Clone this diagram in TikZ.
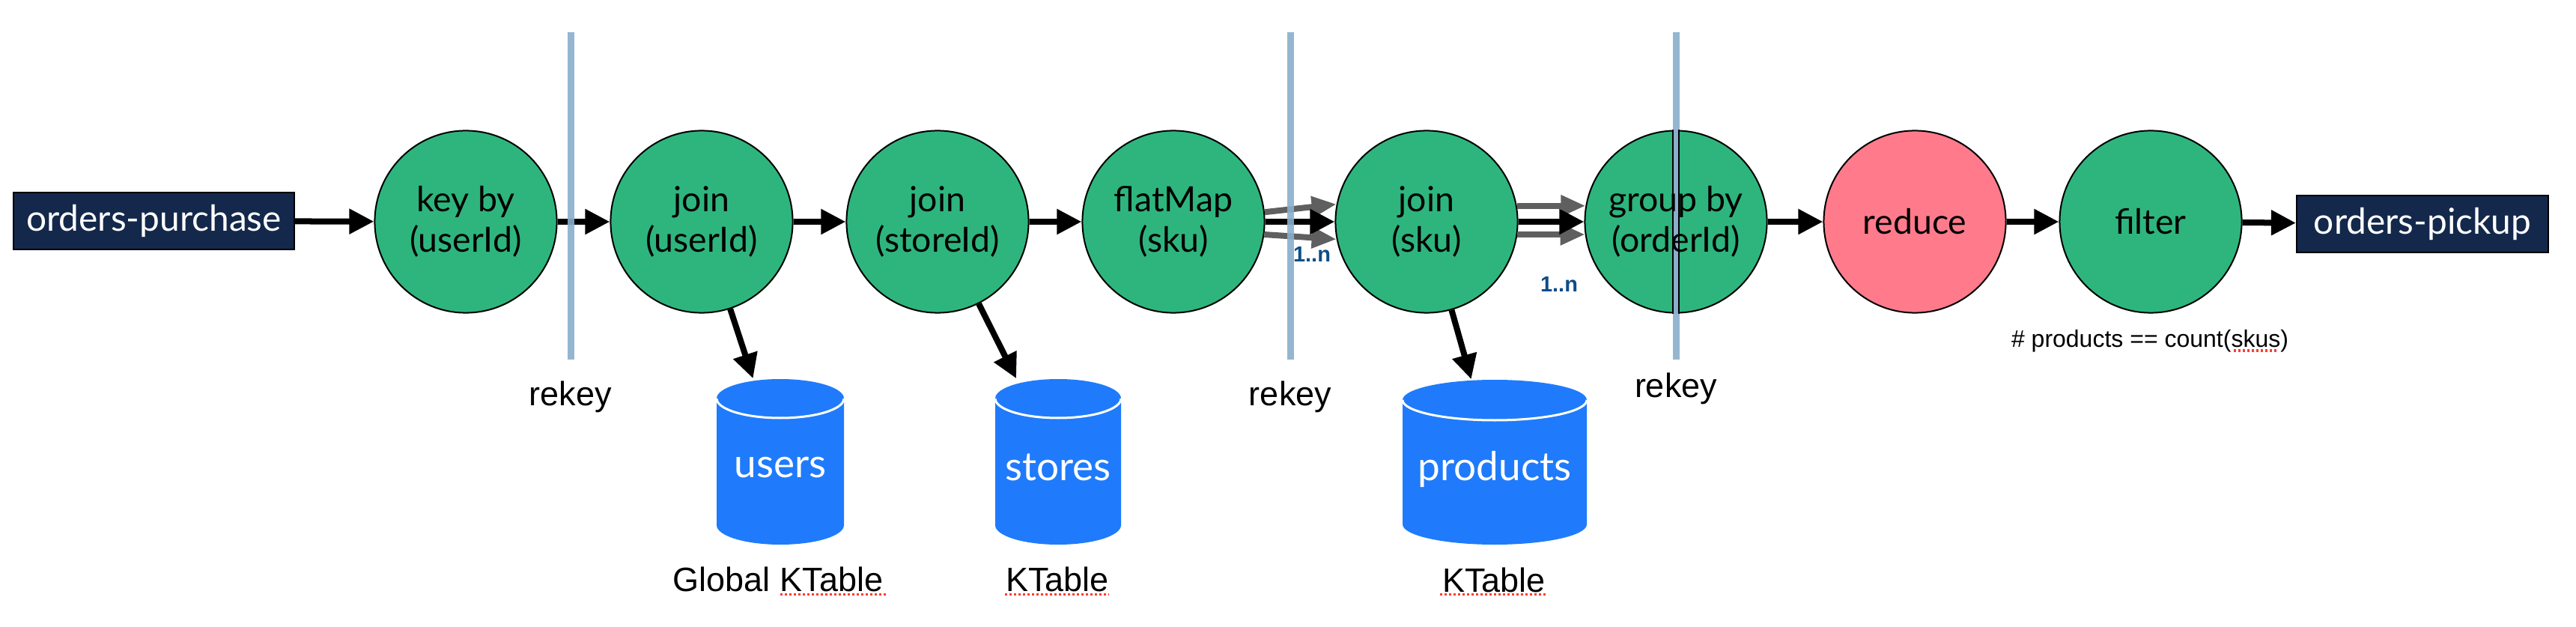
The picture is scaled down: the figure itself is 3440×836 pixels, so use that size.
\documentclass[tikz,border=0pt]{standalone}
\usepackage{fontspec}
\setmainfont{Liberation Sans}
\newfontfamily\procfont{Lato}
\usetikzlibrary{arrows.meta}
\definecolor{opgreen}{HTML}{2EB57E}
\definecolor{oppink}{HTML}{FF7B8B}
\definecolor{topicnavy}{HTML}{13284B}
\definecolor{dbblue}{HTML}{1F7BFB}
\definecolor{rekeyblue}{HTML}{8AAECB}
\definecolor{multgray}{HTML}{5F5F5F}
\definecolor{cardblue}{HTML}{0E4D87}
\definecolor{spellred}{HTML}{FF3B30}
\newcommand\dbcyl[5]{%
  \fill[dbblue] (#1-#4,#2-#5) -- (#1-#4,#3+#5)
    arc[start angle=180,end angle=360,x radius=#4,y radius=#5]
    -- (#1+#4,#2-#5)
    arc[start angle=0,end angle=180,x radius=#4,y radius=#5] -- cycle;
  \draw[white, line width=0.03cm] (#1-#4,#2-#5)
    arc[start angle=180,end angle=360,x radius=#4,y radius=#5];
}
\begin{document}
\begin{tikzpicture}[x=0.01cm,y=0.01cm,
  op/.style={circle, draw=black, line width=0.02cm, fill=opgreen,
    minimum size=2.43cm, inner sep=0pt, align=center,
    font=\procfont\fontsize{13.2}{15.3}\selectfont},
  optext/.style={align=center, inner sep=0pt,
    font=\procfont\fontsize{13.2}{15.3}\selectfont},
  topic/.style={rectangle, draw=black, line width=0.02cm, fill=topicnavy,
    text=white, minimum height=0.76cm, inner sep=0pt,
    font=\procfont\fontsize{13.6}{15}\selectfont},
  flow/.style={draw=black, line width=0.08cm, -{Triangle[length=0.33cm,width=0.32cm]}},
  multflow/.style={draw=multgray, line width=0.08cm, -{Triangle[length=0.33cm,width=0.27cm]}},
  rekeyline/.style={draw=rekeyblue, line width=0.09cm, opacity=0.9},
  dbslot/.style={rectangle, inner sep=0pt},
  dbtext/.style={text=white, inner sep=0pt, font=\procfont\fontsize{15.1}{17}\selectfont},
  caption/.style={inner sep=0pt, anchor=base, font=\fontsize{12.8}{14}\selectfont},
  card/.style={text=cardblue, inner sep=0pt, anchor=base, font=\bfseries\fontsize{8.25}{9}\selectfont},
  squiggle/.style={draw=spellred, line width=0.03cm, dash pattern=on 0.03cm off 0.03cm},
]
\useasboundingbox (0,0) rectangle (3440,836);

% cylinders
\dbcyl{1042}{330}{109}{85}{26}
\dbcyl{1413}{330}{109}{84}{26}
\dbcyl{1996}{329}{109}{123}{27}
\node[dbslot, minimum width=1.70cm, minimum height=2.21cm] (users) at (1042,219.5) {};
\node[dbslot, minimum width=1.68cm, minimum height=2.21cm] (stores) at (1413,219.5) {};
\node[dbslot, minimum width=2.46cm, minimum height=2.20cm] (products) at (1996,219) {};
\node[dbtext] (userstxt) at (1042,212) {users};
\node[dbtext] (storestxt) at (1413,212) {stores};
\node[dbtext] (productstxt) at (1996,210) {products};

% topics and operators
\node[topic, minimum width=3.75cm] (purchase) at (205.5,541) {orders-purchase};
\node[op] (keyby) at (622,540) {key by\\(userId)};
\node[op] (juser) at (937,540) {join\\(userId)};
\node[op] (jstore) at (1252,540) {join\\(storeId)};
\node[op] (flat) at (1567,540) {flatMap\\(sku)};
\node[op] (jsku) at (1905,540) {join\\(sku)};
\node[op] (gb) at (2238,540) {};
\node[op, fill=oppink] (reduce) at (2557,540) {reduce};
\node[op] (filter) at (2872,540) {filter};
\node[topic, minimum width=3.36cm] (pickup) at (3235,537) {orders-pickup};

% connectors
\draw[flow] (purchase) -- (keyby);
\draw[flow] (keyby) -- (juser);
\draw[flow] (juser) -- (jstore);
\draw[flow] (jstore) -- (flat);
\draw[multflow] (flat.6) -- (jsku.169);
\draw[multflow] (flat.352) -- (jsku.191);
\draw[flow] (flat) -- (jsku);
\draw[multflow] (jsku.10) -- (gb.170);
\draw[multflow] (jsku.352) -- (gb.188);
\draw[flow] (jsku) -- (gb);
\draw[flow] (gb) -- (reduce);
\draw[flow] (reduce) -- (filter);
\draw[flow] (filter) -- (pickup);
\draw[flow] (juser) -- (users);
\draw[flow] (jstore) -- (stores);
\draw[flow] (jsku) -- (products);

% rekey boundaries
\coordinate (rk1top) at (762,793);  \coordinate (rk1bot) at (762,356);
\coordinate (rk2top) at (1723,793); \coordinate (rk2bot) at (1723,356);
\coordinate (rk3top) at (2238,793); \coordinate (rk3bot) at (2238,356);
\draw[rekeyline] (rk1top) -- (rk1bot);
\draw[rekeyline] (rk2top) -- (rk2bot);
\draw[rekeyline] (rk3top) -- (rk3bot);
\draw[black, line width=0.1cm] (gb.north) -- (gb.south);
\draw[rekeyblue, line width=0.055cm] (gb.north) -- (gb.south);
\node[optext] (gbtxt) at (gb) {group by\\(orderId)};

% labels
\node[caption] (rk1lbl) at (762,295) {rekey};
\node[caption] (rk2lbl) at (1723,295) {rekey};
\node[caption] (rk3lbl) at (2238,306) {rekey};
\node[caption] (userscap) at (1039,47) {Global KTable};
\node[caption] (storescap) at (1412,47) {KTable};
\node[caption] (productscap) at (1995,46) {KTable};
\node[caption, font=\fontsize{9.1}{10}\selectfont] (filtercond) at (2871,373) {\# products == count(skus)};
\node[card] (card1) at (1752,486) {1..n};
\node[card] (card2) at (2082,446) {1..n};

% spell-check underlines
\draw[squiggle] (1042,43) -- (1186,43);
\draw[squiggle] (1342,43) -- (1481,43);
\draw[squiggle] (1923,43) -- (2064,43);
\draw[squiggle] (2983,368) -- (3043,368);
\end{tikzpicture}
\end{document}
